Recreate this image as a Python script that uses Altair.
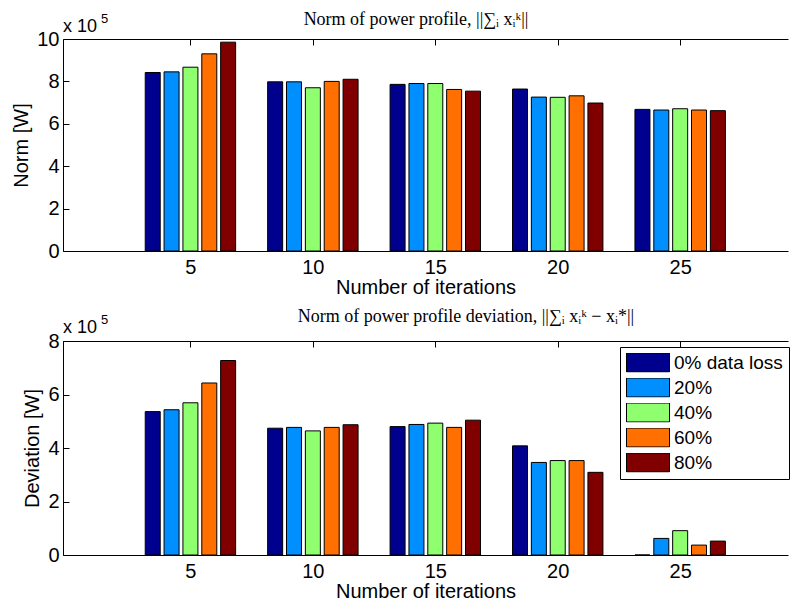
import altair as alt
import pandas as pd

iterations = [5, 10, 15, 20, 25]
series = ["0% data loss", "20%", "40%", "60%", "80%"]
colors = ["#00008F", "#008FFF", "#8FFF70", "#FF7000", "#800000"]

# Norm of power profile (x 10^5 W), one list per data-loss level
norm_0 = [8.42, 7.98, 7.86, 7.64, 6.68]
norm_20 = [8.45, 7.98, 7.90, 7.26, 6.65]
norm_40 = [8.67, 7.70, 7.90, 7.25, 6.71]
norm_60 = [9.30, 8.00, 7.62, 7.32, 6.65]
norm_80 = [9.85, 8.10, 7.54, 6.98, 6.62]

# Norm of power profile deviation (x 10^5 W)
dev_0 = [5.36, 4.74, 4.80, 4.08, 0.00]
dev_20 = [5.43, 4.77, 4.88, 3.46, 0.62]
dev_40 = [5.69, 4.64, 4.93, 3.53, 0.91]
dev_60 = [6.43, 4.77, 4.77, 3.53, 0.37]
dev_80 = [7.27, 4.87, 5.04, 3.09, 0.52]

titles = ["Norm of power profile, ||∑ᵢ xᵢᵏ||",
          "Norm of power profile deviation, ||∑ᵢ xᵢᵏ − xᵢ*||"]
exponent_base = "x 10"
exponent_power = "5"

norm_all = [norm_0, norm_20, norm_40, norm_60, norm_80]
dev_all = [dev_0, dev_20, dev_40, dev_60, dev_80]

rows = []
for k, name in enumerate(series):
    for j, it in enumerate(iterations):
        rows.append({"iter": it, "series": name, "k": k,
                     "norm": norm_all[k][j], "dev": dev_all[k][j]})
df = pd.DataFrame(rows)

SANS = "Liberation Sans"
SERIF = "Liberation Serif"
XMAX = 29.2
W = 725


def panel(field, ymax, ytitle, title, H, legend, title_x, title_y, exp_y, sup_y):
    xsc = alt.Scale(domain=[0, XMAX], nice=False, zero=False)
    ysc = alt.Scale(domain=[0, ymax], nice=False)
    yvals = list(range(0, ymax + 1, 2))
    base = alt.Chart(df).transform_calculate(
        xpos="datum.iter + (datum.k - 2) * 0.77"
    )
    bars = base.mark_bar(size=15, stroke="black", strokeWidth=1).encode(
        x=alt.X("xpos:Q", scale=xsc, axis=alt.Axis(
            values=iterations, title="Number of iterations", ticks=False,
            tickSize=0, grid=False, labelPadding=6, titlePadding=0,
            domainColor="black", labelFontSize=20, titleFontSize=20,
            labelFont=SANS, titleFont=SANS, titleFontWeight="normal",
            labelColor="black", titleColor="black")),
        y=alt.Y(f"{field}:Q", scale=ysc, axis=alt.Axis(
            values=yvals, title=ytitle, ticks=False, tickSize=0, grid=False,
            labelPadding=4, titlePadding=5, domainColor="black",
            labelFontSize=20, titleFontSize=20, labelFont=SANS,
            titleFont=SANS, titleFontWeight="normal", labelColor="black",
            titleColor="black")),
        color=alt.Color("series:N", scale=alt.Scale(domain=series, range=colors),
                        legend=legend),
    )
    frame_a = base.mark_point(opacity=0).encode(
        x=alt.X("xpos:Q", scale=xsc, axis=alt.Axis(
            orient="bottom", offset=-H, values=iterations, labels=False,
            title=None, tickSize=6, grid=False, domainColor="black",
            tickColor="black")),
        y=alt.Y(f"{field}:Q", scale=ysc, axis=alt.Axis(
            orient="right", offset=-W, values=yvals, labels=False, title=None,
            tickSize=6, grid=False, domain=False, tickColor="black")),
    )
    title_text = alt.Chart(pd.DataFrame({"t": [title]})).mark_text(
        align="center", baseline="alphabetic", fontSize=18, font=SERIF,
        color="black").encode(x=alt.value(title_x), y=alt.value(title_y),
                              text="t:N")
    exp_text = alt.Chart(pd.DataFrame({"t": [exponent_base]})).mark_text(
        align="left", baseline="alphabetic", fontSize=18, font=SANS,
        color="black").encode(x=alt.value(0), y=alt.value(exp_y), text="t:N")
    sup_text = alt.Chart(pd.DataFrame({"t": [exponent_power]})).mark_text(
        align="left", baseline="alphabetic", fontSize=13, font=SANS,
        color="black").encode(x=alt.value(38), y=alt.value(sup_y), text="t:N")
    return alt.layer(bars, frame_a, title_text, exp_text, sup_text
                     ).resolve_axis(x="independent", y="independent"
                                    ).properties(width=W, height=H)


top = panel("norm", 10, "Norm [W]", titles[0], 212, None,
            353, -14, -7, -16)

legend = alt.Legend(
    orient="none", legendX=557, legendY=6, title=None,
    symbolType="M-1,-0.44H1V0.44H-1Z", symbolSize=1849,
    symbolStrokeColor="black", symbolStrokeWidth=1, symbolOpacity=1,
    labelFont=SANS, labelFontSize=19, labelColor="black", labelOffset=4,
    rowPadding=5, padding=6, strokeColor="black", fillColor="white",
    clipHeight=19, labelBaseline="middle",
)
bottom = panel("dev", 8, "Deviation [W]", titles[1], 214, legend,
               403, -19, -8, -17)

chart = alt.vconcat(top, bottom, spacing=11).resolve_scale(
    color="independent"
).resolve_legend(color="independent").properties(
    padding={"left": 3, "top": 3, "right": 0, "bottom": 0},
    background="white",
).configure_view(stroke=None)

chart.save("out.html", embed_options={"renderer": "svg", "actions": False})
